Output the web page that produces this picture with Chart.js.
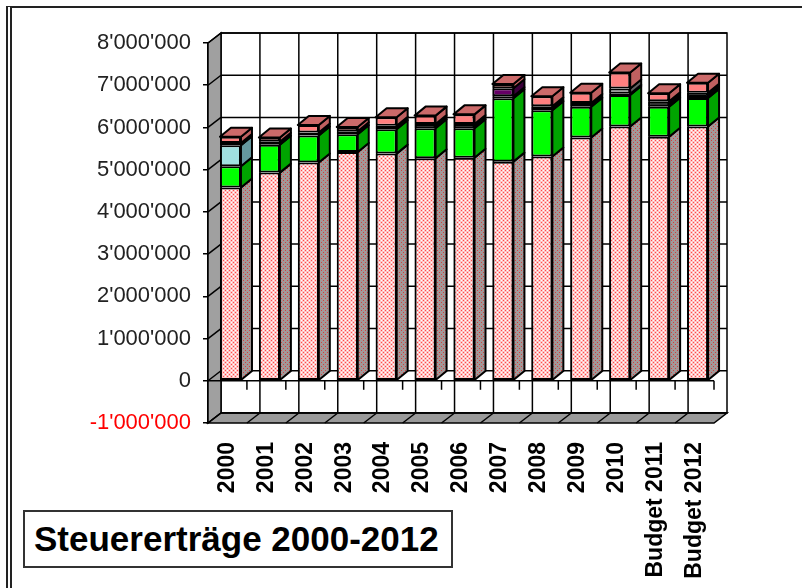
<!DOCTYPE html>
<html>
<head>
<meta charset="utf-8">
<script src="https://cdn.jsdelivr.net/npm/chart.js@4"></script>
<style>
  body { margin: 0; background: #fff; }
  #wrap { position: relative; width: 802px; height: 588px; overflow: hidden; }
  #frame { position: absolute; left: 6px; top: 6px; width: 820px; height: 600px; border-top: 2px solid #222; border-left: 6px double #222; }
  #chart { position: absolute; left: 0; top: 0; }
  #title { position: absolute; left: 23px; top: 510px; width: 417px; height: 54px; padding-left: 9px; border: 2px solid #333; background: #fff;
           font: bold 35px "Liberation Sans", Arial, sans-serif; line-height: 54px; white-space: nowrap; }
</style>
</head>
<body>
<div id="wrap">
  <div id="frame"></div>
  <canvas id="chart" width="802" height="588"></canvas>
  <div id="title">Steuererträge 2000-2012</div>
</div>
<script>
"use strict";

const years = ['2000', '2001', '2002', '2003', '2004', '2005', '2006', '2007', '2008', '2009', '2010', 'Budget 2011', 'Budget 2012'];
const base   = [4580000, 4930000, 5170000, 5420000, 5380000, 5270000, 5280000, 5190000, 5310000, 5760000, 6020000, 5780000, 6020000];
const green  = [500000, 660000, 640000, 420000, 580000, 710000, 700000, 1500000, 1100000, 730000, 750000, 710000, 680000];
const cyan   = [500000, 0, 0, 0, 0, 0, 0, 0, 0, 0, 0, 0, 0];
const black  = [50000, 70000, 70000, 70000, 80000, 100000, 100000, 50000, 90000, 90000, 30000, 130000, 120000];
const purple = [0, 0, 0, 0, 0, 0, 0, 190000, 0, 0, 0, 0, 0];
const grey   = [0, 0, 0, 0, 0, 0, 0, 0, 0, 0, 120000, 0, 0];
const salmon = [150000, 100000, 180000, 100000, 200000, 200000, 230000, 100000, 240000, 240000, 380000, 190000, 240000];
const yTicks = [-1000000, 0, 1000000, 2000000, 3000000, 4000000, 5000000, 6000000, 7000000, 8000000];

const DX = 13, DY = 10;  // depth of the walls
const BX = 11, BY = 9;   // depth of a bar
const SHIFT = 3;         // bars stand a little behind the front plane

function dots(bg, dot, light) {
  const c = document.createElement('canvas');
  c.width = 4; c.height = 4;
  const g = c.getContext('2d');
  g.fillStyle = bg; g.fillRect(0, 0, 4, 4);
  g.fillStyle = dot; g.fillRect(0, 0, 1, 1); g.fillRect(2, 2, 1, 1);
  if (light) { g.fillStyle = light; g.fillRect(2, 0, 1, 1); g.fillRect(0, 2, 1, 1); }
  return g.createPattern(c, 'repeat');
}

function fmt(v) {
  const s = String(Math.abs(v)).replace(/\B(?=(\d{3})+(?!\d))/g, "'");
  return (v < 0 ? '-' : '') + s;
}

function poly(ctx, pts, fill) {
  ctx.beginPath();
  pts.forEach(([px, py], i) => i ? ctx.lineTo(px, py) : ctx.moveTo(px, py));
  ctx.closePath();
  if (fill) { ctx.fillStyle = fill; ctx.fill(); }
  ctx.stroke();
}

function line(ctx, x1, y1, x2, y2) {
  ctx.beginPath(); ctx.moveTo(x1, y1); ctx.lineTo(x2, y2); ctx.stroke();
}

const box3d = {
  id: 'box3d',
  beforeDatasetsDraw(chart) {
    const {ctx, chartArea: a, scales: {y}} = chart;
    const n = chart.data.labels.length, cw = (a.right - a.left) / n;
    ctx.save();
    ctx.strokeStyle = '#000';
    ctx.lineWidth = 1.5;
    ctx.fillStyle = '#fff';
    ctx.beginPath(); ctx.rect(a.left + DX, a.top - DY, a.right - a.left, a.bottom - a.top); ctx.fill(); ctx.stroke();
    poly(ctx, [[a.left, a.top], [a.left + DX, a.top - DY], [a.left + DX, a.bottom - DY], [a.left, a.bottom]], '#a0a0a0');
    poly(ctx, [[a.left, a.bottom], [a.left + DX, a.bottom - DY], [a.right + DX, a.bottom - DY], [a.right, a.bottom]], '#9a9a9a');
    yTicks.forEach(v => {
      const py = y.getPixelForValue(v);
      line(ctx, a.left + DX, py - DY, a.right + DX, py - DY);
      line(ctx, a.left, py, a.left + DX, py - DY);
    });
    for (let k = 1; k < n; k++) {
      const bx = a.left + k * cw;
      line(ctx, bx + DX, a.top - DY, bx + DX, a.bottom - DY);
      line(ctx, bx, a.bottom, bx + DX, a.bottom - DY);
    }
    const y0 = y.getPixelForValue(0);
    line(ctx, a.left, y0, a.right, y0);
    for (let k = 1; k <= n; k++) line(ctx, a.left + k * cw, y0, a.left + k * cw, y0 + 9);
    ctx.restore();
    // kept until afterDatasetsDraw, so the bars and their faces move together
    ctx.save();
    ctx.translate(SHIFT, 0);
  },
  afterDatasetsDraw(chart) {
    const ctx = chart.ctx, sets = chart.data.datasets;
    ctx.strokeStyle = '#000';
    ctx.lineWidth = 2;
    ctx.lineJoin = 'round';
    chart.data.labels.forEach((_, i) => {
      let topIdx = -1;
      sets.forEach((ds, d) => {
        if (!ds.data[i]) return;
        const b = chart.getDatasetMeta(d).data[i];
        const r = b.x + b.width / 2;
        poly(ctx, [[r, b.y], [r + BX, b.y - BY], [r + BX, b.base - BY], [r, b.base]], ds.side);
        topIdx = d;
      });
      if (topIdx < 0) return;
      const b = chart.getDatasetMeta(topIdx).data[i];
      const l = b.x - b.width / 2, r = b.x + b.width / 2;
      poly(ctx, [[l, b.y], [l + BX, b.y - BY], [r + BX, b.y - BY], [r, b.y]], sets[topIdx].top);
    });
    ctx.restore();
  },
};

const font = '"Liberation Sans", Arial, sans-serif';

new Chart(document.getElementById('chart'), {
  type: 'bar',
  data: {
    labels: years,
    datasets: [
      {label: 'Basis', data: base, backgroundColor: dots('#ffc4c4', '#ff4a4a', '#ffffff'), side: dots('#a39898', '#d04040'), top: '#ffc4c4'},
      {label: 'Grün', data: green, backgroundColor: '#00ff00', side: '#00a400', top: '#00c800'},
      {label: 'Cyan', data: cyan, backgroundColor: '#a0e0e0', side: '#64989e', top: '#80c0c0'},
      {label: 'Schwarz', data: black, backgroundColor: '#000000', side: '#000000', top: '#000000'},
      {label: 'Violett', data: purple, backgroundColor: '#660066', side: '#3a003a', top: '#500050'},
      {label: 'Grau', data: grey, backgroundColor: '#909090', side: '#606060', top: '#707070'},
      {label: 'Lachs', data: salmon, backgroundColor: '#ff8080', side: '#c06060', top: '#cc6a6a'},
    ],
  },
  options: {
    responsive: false,
    animation: false,
    layout: {padding: {top: 43, right: 88, left: 0, bottom: 0}},
    plugins: {legend: {display: false}, tooltip: {enabled: false}},
    datasets: {
      bar: {borderColor: '#000', borderWidth: 2, borderSkipped: false, categoryPercentage: 0.8, barPercentage: 0.675},
    },
    scales: {
      x: {
        stacked: true,
        grid: {display: false, drawTicks: false},
        border: {display: false},
        ticks: {minRotation: 90, maxRotation: 90, padding: 19, color: '#000', font: {family: font, size: 23, weight: 'bold'}},
        afterFit: s => { s.height = 165; },
      },
      y: {
        stacked: true,
        min: -1000000,
        max: 8000000,
        ticks: {
          stepSize: 1000000,
          callback: fmt,
          padding: 12,
          color: c => c.tick.value < 0 ? '#ff0000' : '#222',
          font: {family: font, size: 22},
        },
        grid: {drawOnChartArea: false, tickLength: 5, color: '#000', lineWidth: 1.5},
        border: {display: true, color: '#000', width: 1.5},
        afterFit: s => { s.width = 208; },
      },
    },
  },
  plugins: [box3d],
});
</script>
</body>
</html>
